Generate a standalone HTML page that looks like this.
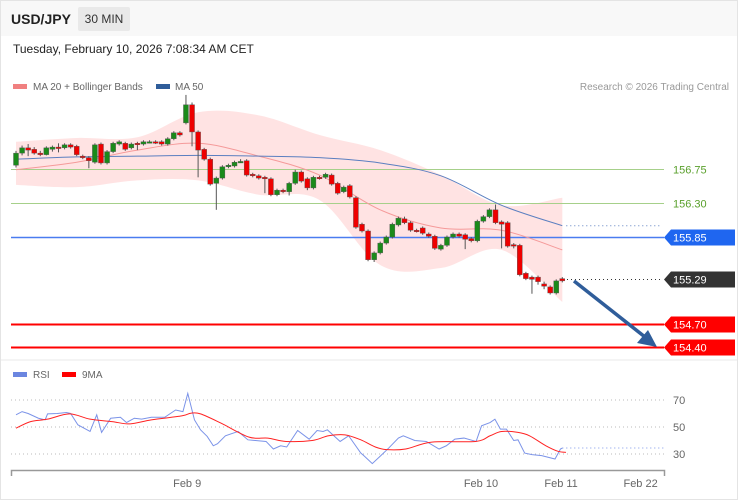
<!DOCTYPE html>
<html><head><meta charset="utf-8"><style>
body{margin:0;background:#fff;font-family:"Liberation Sans",sans-serif;}
#wrap{position:relative;width:738px;height:500px;overflow:hidden;}
svg text{font-family:"Liberation Sans",sans-serif;}
</style></head><body>
<div id="wrap">
<svg id="svg" width="738" height="500" xmlns="http://www.w3.org/2000/svg">
<rect x="0.5" y="0.5" width="737" height="499" fill="#fff" stroke="#e4e4e4"/>
<rect x="1" y="1" width="736" height="35" fill="#f8f8f8"/>
<text x="11" y="24" font-size="14" font-weight="bold" fill="#222">USD/JPY</text>
<rect x="78" y="7" width="52" height="24" fill="#e9e9e9" rx="2"/>
<text x="104" y="23" font-size="12" fill="#333" text-anchor="middle">30 MIN</text>
<text x="13" y="53" font-size="12" fill="#222">Tuesday, February 10, 2026 7:08:34 AM CET</text>
<rect x="13" y="84" width="14" height="5" fill="#f08080"/>
<text x="33" y="90" font-size="10" fill="#666">MA 20 + Bollinger Bands</text>
<rect x="156" y="84" width="14" height="5" fill="#2f5d9a"/>
<text x="175" y="90" font-size="10" fill="#666">MA 50</text>
<text x="729" y="90" font-size="10" fill="#999" text-anchor="end">Research © 2026 Trading Central</text>
<g id="price"></g>
<line x1="1" y1="360" x2="737" y2="360" stroke="#e8e8e8"/>
<rect x="13" y="372" width="14" height="5" fill="#6b86e0"/>
<text x="33" y="378" font-size="10" fill="#666">RSI</text>
<rect x="62" y="372" width="14" height="5" fill="#f00"/>
<text x="82" y="378" font-size="10" fill="#666">9MA</text>
<g id="rsi"></g>
<g>
<path d="M11.5 476 V470.5 H664.5 V476" fill="none" stroke="#999" stroke-width="1.5"/>
</g>
<g id="xlabels"></g>
</svg>
</div>
<script>
const opens=[156.80,156.96,157.03,157.01,156.96,156.94,157.01,157.04,157.03,157.07,157.05,156.92,156.90,156.84,157.08,156.83,156.98,157.08,157.09,157.03,157.09,157.08,157.11,157.11,157.11,157.08,157.15,157.23,157.36,157.60,157.24,157.01,156.88,156.56,156.63,156.78,156.79,156.85,156.86,156.68,156.66,156.64,156.62,156.41,156.47,156.45,156.56,156.71,156.62,156.50,156.64,156.64,156.67,156.56,156.45,156.53,156.37,156.02,155.93,155.55,155.64,155.77,155.85,156.01,156.09,156.04,155.94,155.97,155.89,155.86,155.69,155.74,155.85,155.89,155.88,155.83,155.80,156.06,156.12,156.21,156.05,156.04,155.75,155.74,155.37,155.32,155.32,155.23,155.19,155.11,155.30];
const closes=[156.96,157.03,157.00,156.96,156.94,157.03,157.04,157.03,157.07,157.04,156.94,156.90,156.86,157.07,156.83,156.98,157.09,157.11,157.01,157.08,157.08,157.11,157.11,157.10,157.08,157.15,157.23,157.20,157.60,157.24,157.00,156.88,156.55,156.63,156.78,156.80,156.84,156.85,156.67,156.66,156.63,156.62,156.41,156.47,156.45,156.56,156.71,156.59,156.50,156.64,156.63,156.68,156.55,156.43,156.51,156.38,155.98,155.93,155.55,155.64,155.77,155.85,156.02,156.10,156.04,155.94,155.93,155.90,155.86,155.70,155.74,155.85,155.89,155.86,155.82,155.80,156.06,156.12,156.21,156.04,156.02,155.73,155.73,155.35,155.30,155.29,155.26,155.20,155.11,155.27,155.27];
const highs=[156.99,157.06,157.08,157.04,156.99,157.05,157.06,157.09,157.09,157.09,157.07,156.94,156.92,157.09,157.10,157.00,157.11,157.13,157.11,157.10,157.11,157.13,157.13,157.13,157.13,157.17,157.25,157.25,157.73,157.63,157.26,157.03,156.90,156.65,156.80,156.82,156.86,156.88,156.88,156.70,156.68,156.66,156.64,156.49,156.49,156.58,156.74,156.73,156.64,156.66,156.66,156.70,156.69,156.58,156.53,156.55,156.39,156.04,155.95,155.66,155.79,155.87,156.04,156.12,156.12,156.06,155.96,155.99,155.91,155.88,155.76,155.87,155.91,155.91,155.90,155.85,156.08,156.14,156.23,156.28,156.07,156.06,155.77,155.76,155.39,155.34,155.34,155.26,155.21,155.29,155.32];
const lows=[156.77,156.93,156.92,156.94,156.92,156.93,156.98,156.97,157.01,157.02,156.92,156.88,156.76,156.82,156.81,156.81,156.96,157.06,156.99,157.01,157.00,157.06,157.09,157.08,157.06,157.06,157.13,157.18,157.34,157.05,156.64,156.86,156.53,156.21,156.61,156.76,156.77,156.83,156.65,156.64,156.61,156.43,156.39,156.39,156.43,156.40,156.54,156.57,156.47,156.48,156.61,156.62,156.53,156.41,156.43,156.36,155.96,155.91,155.53,155.52,155.62,155.75,155.83,155.99,156.02,155.92,155.91,155.88,155.84,155.68,155.67,155.72,155.83,155.84,155.69,155.78,155.78,156.04,156.10,156.02,155.70,155.71,155.70,155.33,155.28,155.10,155.22,155.16,155.09,155.09,155.25];
const bandIdx=[0,10,20,30,40,50,60,70,80,90];
const ma20=[156.74,156.84,157.00,157.09,156.92,156.67,156.21,155.97,155.94,155.68];
const bbUpper=[157.11,157.16,157.17,157.50,157.46,157.20,157.00,156.67,156.27,156.37];
const bbLower=[156.54,156.51,156.60,156.60,156.41,156.34,155.48,155.44,155.68,154.99];
const ma50=[156.88,156.91,156.92,156.93,156.92,156.90,156.83,156.66,156.27,156.00];
const levels=[156.75,156.30,155.85,155.29,154.70,154.40];
const rsiIdx=[0,1,2,3.7,4.8,5.2,6.8,8.3,9,10.2,12.2,13.3,14.1,15.6,17.2,18.2,19.5,20.7,22.3,24.5,26.3,27.5,28.3,29.4,30.4,31.5,32.5,33.2,34.5,36.6,38.2,41.2,42.4,43.6,44.6,46.4,48.3,49.6,50.6,51.3,53.4,54.8,56.8,57.3,58.7,60.1,61.4,63,63.8,65.7,67.6,69.7,70.9,72.3,73.8,75.8,76.7,78.1,78.9,79.8,80.8,82,82.7,83.8,85,86.6,88.8,89.7,90];
const rsiVal=[59,61.4,60,56.5,55.3,59.7,60,60.7,60,51.6,46.7,59,46,56.5,57.2,53.3,56.5,55.8,57.2,57.2,62.6,61.4,74.9,55.3,47.9,43,36.1,37.6,43.5,46.7,40.5,39.3,33.7,36.1,35.2,47.4,41,47.4,46.7,47.9,39.3,43.5,30.7,28.8,22.9,28.8,34.4,41.8,43.5,40,39.3,33.7,36.1,41,41.8,39.3,50.9,53.3,55.8,48.4,48.4,40,40.5,30.7,29.5,28.8,26.3,33.7,34.4];
const maIdx=[0,2.4,5.2,8.8,12.2,15.8,18.8,22.3,27.3,28.8,30.4,33.8,38.4,41.5,44.5,48.8,51.5,54.2,56.8,59.2,61.1,64.2,68.5,75.7,78.1,80,82.7,84.6,87.3,89.3,90.6];
const maVal=[49.1,54,55.8,59.7,55.8,54,52.3,55.3,58.2,60.2,59.7,52.8,42.5,41.8,39.3,40,43.5,44.2,40.5,35.2,33.2,33.7,38.8,39.3,43.5,46.7,46,43.5,36.1,32,31.2];
const rsiTicks=[70,50,30];
const dateLabels=["Feb 9","Feb 10","Feb 11","Feb 22"];
const dateIdx=[28.2,76.6,89.8,102.9];

const NS="http://www.w3.org/2000/svg";
const xS=i=>16+6.07*i;
const yP=p=>169+(156.75-p)*75.6;
const yR=v=>400+(70-v)*1.35;
function mk(tag,attrs,parent){const e=document.createElementNS(NS,tag);for(const k in attrs)e.setAttribute(k,attrs[k]);parent.appendChild(e);return e;}
const gP=document.getElementById('price'),gR=document.getElementById('rsi'),gX=document.getElementById('xlabels');
function smooth(pts){let d='M'+pts[0][0]+' '+pts[0][1];for(let i=0;i<pts.length-1;i++){const p0=pts[Math.max(0,i-1)],p1=pts[i],p2=pts[i+1],p3=pts[Math.min(pts.length-1,i+2)];d+=` C${p1[0]+(p2[0]-p0[0])/6} ${p1[1]+(p2[1]-p0[1])/6} ${p2[0]-(p3[0]-p1[0])/6} ${p2[1]-(p3[1]-p1[1])/6} ${p2[0]} ${p2[1]}`;}return d;}
// bands
const up=bandIdx.map((i,k)=>[xS(i),yP(bbUpper[k])]);
const lo=bandIdx.map((i,k)=>[xS(i),yP(bbLower[k])]);
let bd=smooth(up);const lr=lo.slice().reverse();bd+=' L'+lr[0][0]+' '+lr[0][1]+smooth(lr).slice(smooth(lr).indexOf(' C'))+' Z';
const band=mk('path',{d:bd,fill:'#ffdede',opacity:'0.85'},gP);


// level lines
const lvlCol=['#a6d08a','#a6d08a','#4a7cf0','#333','#f00','#f00'];
levels.forEach((p,k)=>{
  const y=Math.round(yP(p))+0.5;
  if(k<3||k>3){const l=mk('line',{x1:11,y1:y,x2:664,y2:y,stroke:lvlCol[k],'stroke-width':k>3?2:(k==2?1.5:1)},gP);
    
    }
  else{const l=mk('line',{x1:567,y1:y,x2:660,y2:y,stroke:'#333','stroke-dasharray':'1,3'},gP);
    
    }
  if(k<2){const t=mk('text',{x:673,y:y+4,'font-size':11,fill:'#5aa02c'},gP);t.textContent=p.toFixed(2);
    
    }
  else{const bg=k==2?'#1f66f0':(k==3?'#333':'#f00');
    const tag=mk('path',{d:`M664 ${y} L671 ${y-8} H735 V${y+8} H671 Z`,fill:bg},gP);
    
    
    const t=mk('text',{x:673,y:y+4,'font-size':11,fill:'#fff'},gP);t.textContent=p.toFixed(2);
    
    }
});
// MAs
const m20=mk('path',{d:smooth(bandIdx.map((i,k)=>[xS(i),yP(ma20[k])])),fill:'none',stroke:'#f59a9a','stroke-width':1},gP);


const m50=mk('path',{d:smooth(bandIdx.map((i,k)=>[xS(i),yP(ma50[k])])),fill:'none',stroke:'#5b7fc0','stroke-width':1},gP);


const m50e=mk('line',{x1:xS(90)+4,y1:yP(ma50[ma50.length-1]),x2:660,y2:yP(ma50[ma50.length-1]),stroke:'#5b7fc0','stroke-dasharray':'1,3'},gP);


// candles
opens.forEach((o,i)=>{
  const c=closes[i],x=xS(i),g=c>=o;
  const w=mk('line',{x1:x,y1:yP(highs[i]),x2:x,y2:yP(lows[i]),stroke:'#555','stroke-width':1},gP);
  
  
  const t=yP(Math.max(o,c)),h=Math.max(1.5,yP(Math.min(o,c))-t);
  const b=mk('rect',{x:x-2.5,y:t,width:5,height:h,fill:g?'#1a8a1a':'#e00',stroke:'#555','stroke-width':0.4},gP);
  
  
});
// arrow
const ar=mk('g',{},gP);


mk('line',{x1:574,y1:281,x2:645,y2:337,stroke:'#2f5d9a','stroke-width':3.5},ar);
mk('path',{d:'M657 347 L637 343 L648 330 Z',fill:'#2f5d9a'},ar);
// RSI
rsiTicks.forEach(v=>{
  const l=mk('line',{x1:11,y1:yR(v),x2:664,y2:yR(v),stroke:'#bbb','stroke-dasharray':'1,3'},gR);
  
  
  const t=mk('text',{x:673,y:yR(v)+4,'font-size':11,fill:'#666'},gR);t.textContent=v;
  
  
});
const rl=mk('polyline',{points:rsiIdx.map((i,k)=>xS(i)+','+yR(rsiVal[k])).join(' '),fill:'none',stroke:'#7b93e8','stroke-width':1},gR);


const re=mk('line',{x1:xS(90),y1:yR(rsiVal[rsiVal.length-1]),x2:664,y2:yR(rsiVal[rsiVal.length-1]),stroke:'#7b93e8','stroke-dasharray':'1,3'},gR);


const ml=mk('path',{d:smooth(maIdx.map((i,k)=>[xS(i),yR(maVal[k])])),fill:'none',stroke:'#f22','stroke-width':1},gR);


dateLabels.forEach((s,k)=>{
  const t=mk('text',{x:xS(dateIdx[k]),y:487,'font-size':11,fill:'#666','text-anchor':'middle'},gX);t.textContent=s;
  
  
});
</script>
</body></html>
